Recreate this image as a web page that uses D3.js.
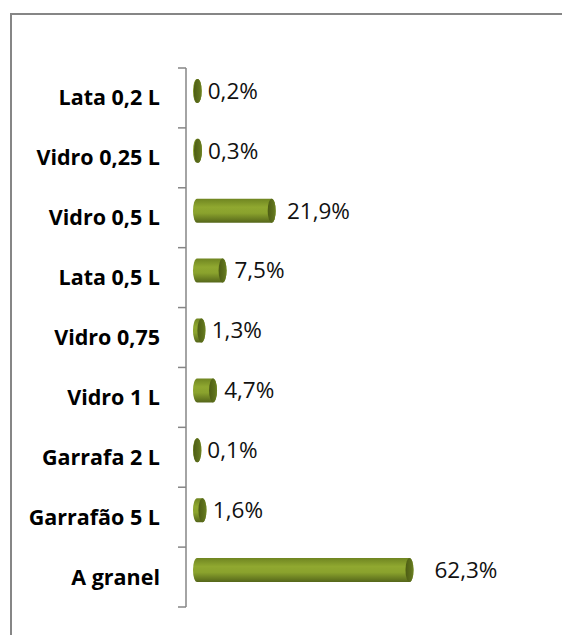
<!DOCTYPE html>
<html lang="pt">
<head>
    <meta charset="UTF-8">
    <title>Embalagens</title>
    <script src="https://d3js.org/d3.v7.min.js"></script>
    <style>
        body { margin: 0; background: #fff; }
        svg { display: block; }
        .cat { font-family: "Open Sans", Lato, sans-serif; font-weight: bold; font-size: 21.5px; fill: #000; }
        .val { font-family: "Open Sans", Lato, sans-serif; font-size: 22.5px; fill: #111; }
    </style>
</head>
<body>
    <svg></svg>

    <script>
        // dados
        const categorias = ["Lata 0,2 L", "Vidro 0,25 L", "Vidro 0,5 L", "Lata 0,5 L", "Vidro 0,75",
            "Vidro 1 L", "Garrafa 2 L", "Garrafão 5 L", "A granel"];
        const valores = [0.2, 0.3, 21.9, 7.5, 1.3, 4.7, 0.1, 1.6, 62.3];
        const rotulos = ["0,2%", "0,3%", "21,9%", "7,5%", "1,3%", "4,7%", "0,1%", "1,6%", "62,3%"];

        const width = 562, height = 635;
        const svg = d3.select('svg')
            .attr('width', width)
            .attr('height', height)
            .attr('viewBox', [0, 0, width, height]);

        const margin = {top: 68, bottom: 28, left: 186, right: 60};

        // moldura da área do gráfico
        svg.append('path')
            .attr('d', `M11,${height} V14 H${width}`)
            .attr('fill', 'none')
            .attr('stroke', '#868686')
            .attr('stroke-width', 2);

        const y_scale = d3.scaleBand()
            .domain(categorias)
            .range([margin.top, height - margin.bottom]);

        const x_scale = d3.scaleLinear()
            .domain([0, 62.3])
            .range([197, 409.5]);

        // gradiente do cilindro
        const defs = svg.append('defs');
        const grad = defs.append('linearGradient')
            .attr('id', 'cil').attr('x1', 0).attr('y1', 0).attr('x2', 0).attr('y2', 1);
        grad.append('stop').attr('offset', '0%').attr('stop-color', '#6f8521');
        grad.append('stop').attr('offset', '35%').attr('stop-color', '#90a830');
        grad.append('stop').attr('offset', '60%').attr('stop-color', '#8aa22d');
        grad.append('stop').attr('offset', '100%').attr('stop-color', '#55661a');

        const capGrad = defs.append('linearGradient')
            .attr('id', 'tampa').attr('x1', 0).attr('y1', 0).attr('x2', 1).attr('y2', 0);
        capGrad.append('stop').attr('offset', '0%').attr('stop-color', '#4d5c14');
        capGrad.append('stop').attr('offset', '70%').attr('stop-color', '#5e711c');
        capGrad.append('stop').attr('offset', '100%').attr('stop-color', '#6d8224');

        const rx = 4, ry = 12;
        const shift = -7; // deslocamento do cilindro 3D dentro da banda
        const cy = d => y_scale(d.cat) + y_scale.bandwidth() / 2 + shift;

        const data = categorias.map((c, i) => ({cat: c, v: valores[i], label: rotulos[i]}));

        const bars = svg.append('g')
            .selectAll('g')
            .data(data)
            .join('g');

        // corpo do cilindro
        bars.append('path')
            .attr('d', d => {
                const x0 = x_scale(0), x1 = x_scale(d.v), c = cy(d);
                return `M${x0},${c - ry} H${x1} A${rx},${ry} 0 0 1 ${x1},${c + ry} H${x0} A${rx},${ry} 0 0 1 ${x0},${c - ry} Z`;
            })
            .attr('fill', 'url(#cil)');

        // tampa do cilindro
        bars.append('ellipse')
            .attr('cx', d => x_scale(d.v))
            .attr('cy', d => cy(d))
            .attr('rx', rx)
            .attr('ry', ry)
            .attr('fill', 'url(#tampa)');

        // rótulos de valor (afastamento cresce um pouco com a barra, como no 3D)
        bars.append('text')
            .attr('class', 'val')
            .attr('x', d => x_scale(d.v) + rx + 6 + d.v * 0.24)
            .attr('y', d => cy(d))
            .attr('dy', '0.35em')
            .text(d => d.label);

        // eixo vertical
        const y_axis = d3.axisLeft(y_scale).tickSize(0).tickFormat('');
        const gAxis = svg.append('g')
            .attr('transform', `translate(${margin.left},0)`)
            .call(y_axis);
        gAxis.select('.domain').remove();
        gAxis.append('line')
            .attr('x1', 0).attr('x2', 0)
            .attr('y1', margin.top).attr('y2', height - margin.bottom)
            .attr('stroke', '#868686').attr('stroke-width', 1.5);

        // marcas entre categorias
        const bordas = categorias.map(c => y_scale(c)).concat([height - margin.bottom]);
        gAxis.selectAll('.sep')
            .data(bordas)
            .join('line')
            .attr('class', 'sep')
            .attr('x1', -8).attr('x2', 0)
            .attr('y1', d => d).attr('y2', d => d)
            .attr('stroke', '#868686').attr('stroke-width', 1.5);

        // rótulos das categorias
        svg.append('g')
            .selectAll('text')
            .data(categorias)
            .join('text')
            .attr('class', 'cat')
            .attr('x', 160)
            .attr('y', d => y_scale(d) + y_scale.bandwidth() / 2)
            .attr('dy', '0.35em')
            .attr('text-anchor', 'end')
            .text(d => d);
    </script>
</body>
</html>
